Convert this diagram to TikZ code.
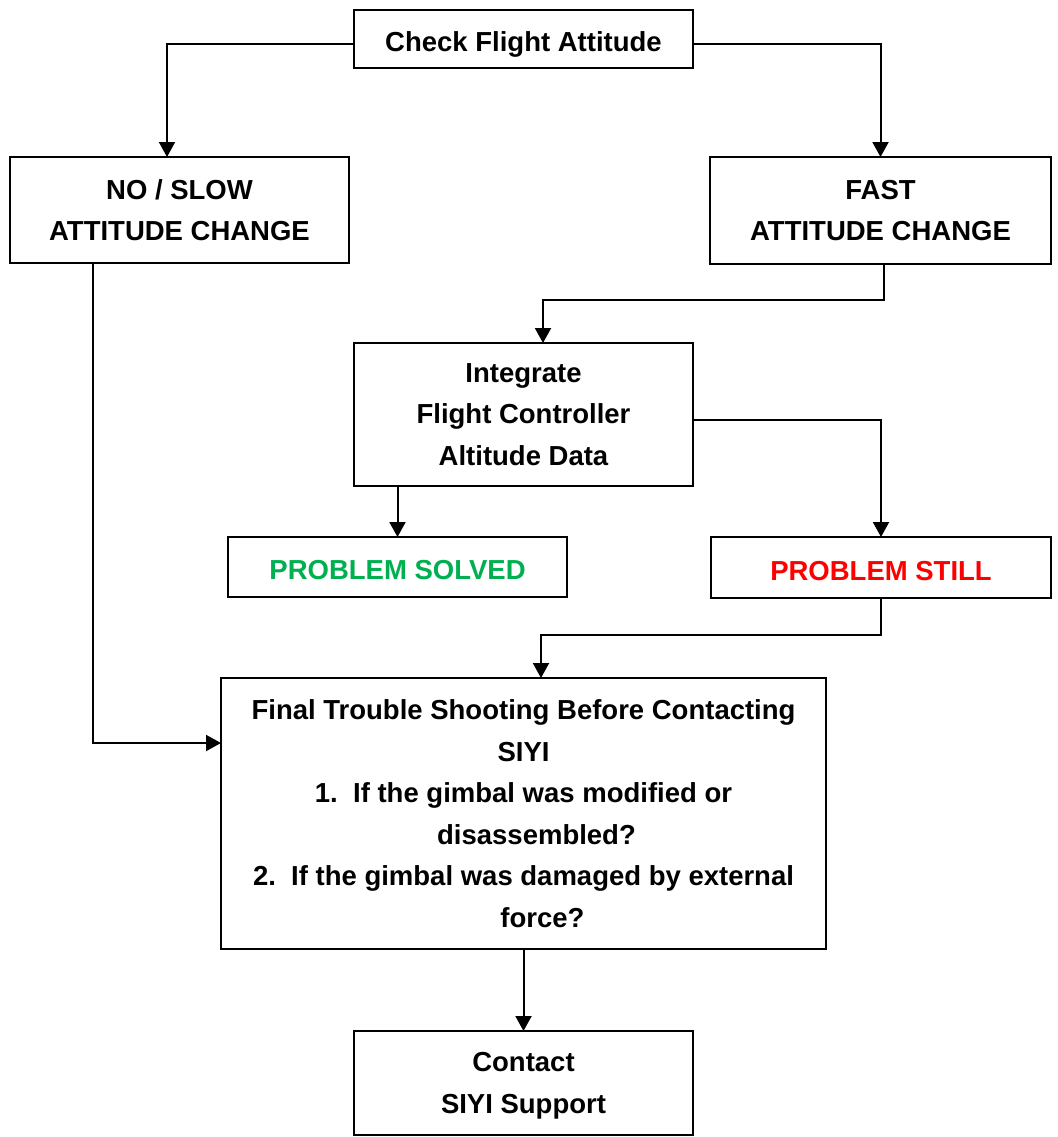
\documentclass[tikz,border=0pt]{standalone}
\usepackage{fontspec}
\setmainfont{Liberation Sans}
\usepackage{tikz}
\usetikzlibrary{calc,arrows.meta}
\definecolor{solvedgreen}{RGB}{0,176,80}
\definecolor{stillred}{RGB}{255,0,0}
\tikzset{
	box/.style={rectangle,draw,line width=2pt,inner sep=0pt,outer sep=0pt,align=center,font=\bfseries\fontsize{27.5}{41.5}\selectfont},
	onebox/.style={box,text height=25pt,text depth=0pt},
	multibox/.style={box,text depth=-5pt},
	directed/.style={line width=2pt,arrows={-Triangle[length=15pt,width=16pt]}}
}
\begin{document}
\begin{tikzpicture}[x=1pt,y=-1pt]
		\useasboundingbox (0,0) rectangle (1057,1137);
		\node[onebox,minimum width=339,minimum height=58] (check) at (523.5,39) {Check Flight Attitude};
		\node[multibox,minimum width=339,minimum height=106] (noslow) at (179.5,210) {NO / SLOW\\ATTITUDE CHANGE};
		\node[multibox,minimum width=341,minimum height=107] (fast) at (880.5,210.5) {FAST\\ATTITUDE CHANGE};
		\node[multibox,minimum width=339,minimum height=143] (integrate) at (523.5,414.5) {Integrate\\Flight Controller\\Altitude Data};
		\node[onebox,minimum width=339,minimum height=60,text=solvedgreen] (solved) at (397.5,567) {PROBLEM SOLVED};
		\node[onebox,minimum width=340,minimum height=61,text=stillred] (still) at (881,567.5) {PROBLEM STILL};
		\node[multibox,minimum width=605,minimum height=271] (final) at (523.5,813.5) {Final Trouble Shooting Before Contacting\\SIYI\\1.\ \ If the gimbal was modified or\\\hspace*{26pt}disassembled?\\2.\ \ If the gimbal was damaged by external\\\hspace*{38pt}force?};
		\node[multibox,minimum width=339,minimum height=104] (contact) at (523.5,1083) {Contact\\SIYI Support};
		
		\draw[directed] ([yshift=-5pt]check.west) -| ([xshift=-12.5pt]noslow.north);
		\draw[directed] ([yshift=-5pt]check.east) -| (fast.north);
		\draw[directed] ([xshift=3.5pt]fast.south) -- ++(0,36) -| ([xshift=19.5pt]integrate.north);
		\draw[directed] (solved.north |- integrate.south) -- (solved.north);
		\draw[directed] ([yshift=-5.5pt]integrate.east) -| (still.north);
		\draw[directed] (still.south) -- ++(0,37) -| ([xshift=17.5pt]final.north);
		\draw[directed] ([xshift=-86.5pt]noslow.south) |- ([yshift=70.5pt]final.west);
		\draw[directed] (final.south) -- (contact.north);
		\end{tikzpicture}
\end{document}
